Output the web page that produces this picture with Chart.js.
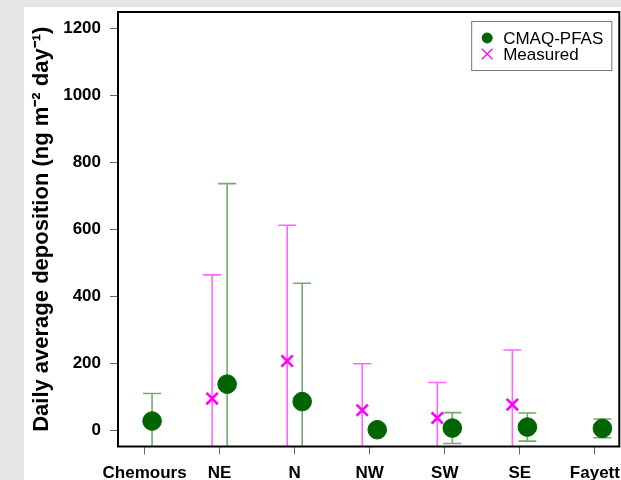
<!DOCTYPE html>
<html>
<head>
<meta charset="utf-8">
<script src="https://cdn.jsdelivr.net/npm/chart.js@4.4.1/dist/chart.umd.min.js"></script>
<style>
  html, body { margin: 0; padding: 0; background: #e6e6e6; overflow: hidden; width: 621px; height: 480px; }
  #panel { position: absolute; left: 24px; top: 7px; width: 597px; height: 473px; background: #ffffff; }
  canvas { display: block; }
</style>
</head>
<body>
<div id="panel"><canvas id="c" width="597" height="473"></canvas></div>
<script>
// ---- data ----
const categories = ['Chemours', 'NE', 'N', 'NW', 'SW', 'SE', 'Fayett'];
const cmaqMean = [28, 138, 86, 2, 7, 10, 6];
const cmaqSd = [82, 598, 353, 0, 46, 42, 28];
const measuredMean = [null, 95, 207, 60, 37, 77, null];
const measuredSd = [null, 369, 405, 139, 106, 163, null];
const yTickValues = [0, 200, 400, 600, 800, 1000, 1200];
const seriesNames = ['CMAQ-PFAS', 'Measured'];
const yTitle = 'Daily average deposition (ng m\u207B\u00B2 day\u207B\u00B9)';

// ---- styling ----
const OFFSET = 0.1;
const GREEN = '#006400';
const MAGENTA = '#ff00ff';
const GREEN_BAR = 'rgba(0,100,0,0.55)';
const MAGENTA_BAR = 'rgba(255,0,255,0.6)';
const FONT = "'Liberation Sans', Arial, Helvetica, sans-serif";

function buildPoints(means, sds, off) {
  const pts = [];
  means.forEach((v, i) => {
    if (v !== null) pts.push({ x: i + 1 + off, y: v, sd: sds[i] });
  });
  return pts;
}

const errorBarPlugin = {
  id: 'errorBars',
  beforeDatasetsDraw(chart) {
    const { ctx, chartArea, scales } = chart;
    const xs = scales.x, ys = scales.y;
    ctx.save();
    ctx.beginPath();
    ctx.rect(chartArea.left, chartArea.top, chartArea.right - chartArea.left, chartArea.bottom - chartArea.top);
    ctx.clip();
    chart.data.datasets.forEach(ds => {
      ctx.strokeStyle = ds.errorColor;
      ctx.lineWidth = 1.6;
      ds.data.forEach(d => {
        if (!d.sd) return;
        const px = xs.getPixelForValue(d.x);
        const pHi = ys.getPixelForValue(d.y + d.sd);
        const pLo = ys.getPixelForValue(d.y - d.sd);
        ctx.beginPath();
        ctx.moveTo(px, pLo);
        ctx.lineTo(px, pHi);
        const cap = 9;
        ctx.moveTo(px - cap, pHi);
        ctx.lineTo(px + cap, pHi);
        ctx.moveTo(px - cap, pLo);
        ctx.lineTo(px + cap, pLo);
        ctx.stroke();
      });
    });
    ctx.restore();
  }
};

const framePlugin = {
  id: 'frame',
  afterDraw(chart) {
    const { ctx, chartArea } = chart;
    ctx.save();
    ctx.strokeStyle = '#000';
    ctx.lineWidth = 2;
    ctx.strokeRect(chartArea.left, chartArea.top, chartArea.right - chartArea.left, chartArea.bottom - chartArea.top);

    // legend box (top-right, inside plot)
    ctx.font = '17px ' + FONT;
    const textW = Math.max(...chart.data.datasets.map(d => ctx.measureText(d.label).width));
    const boxRight = chartArea.right - 8;
    const boxTop = chartArea.top + 9;
    const boxW = 32 + textW + 8;
    const boxH = 49;
    const boxLeft = boxRight - boxW;
    ctx.fillStyle = '#fff';
    ctx.fillRect(boxLeft, boxTop, boxW, boxH);
    ctx.strokeStyle = '#777';
    ctx.lineWidth = 1;
    ctx.strokeRect(boxLeft + 0.5, boxTop + 0.5, boxW, boxH);
    chart.data.datasets.forEach((ds, i) => {
      const cy = boxTop + 17 + i * 16;
      ctx.save();
      ctx.fillStyle = ds.backgroundColor;
      ctx.strokeStyle = ds.borderColor;
      ctx.lineWidth = ds.legendBorderWidth;
      Chart.helpers.drawPoint(ctx, {
        pointStyle: ds.pointStyle,
        radius: ds.legendRadius,
        borderWidth: ds.legendBorderWidth,
        rotation: 0
      }, boxLeft + 16, cy);
      ctx.restore();
      ctx.font = '17px ' + FONT;
      ctx.fillStyle = '#000';
      ctx.textBaseline = 'middle';
      ctx.textAlign = 'left';
      ctx.fillText(ds.label, boxLeft + 32, cy + 1);
    });
    ctx.restore();
  }
};

const chart = new Chart(document.getElementById('c'), {
  type: 'scatter',
  data: {
    datasets: [
      {
        label: seriesNames[0],
        data: buildPoints(cmaqMean, cmaqSd, OFFSET),
        pointStyle: 'circle',
        pointRadius: 9.3,
        pointBorderWidth: 1,
        backgroundColor: GREEN,
        borderColor: GREEN,
        errorColor: GREEN_BAR,
        legendRadius: 5,
        legendBorderWidth: 1
      },
      {
        label: seriesNames[1],
        data: buildPoints(measuredMean, measuredSd, -OFFSET),
        pointStyle: 'crossRot',
        pointRadius: 8,
        pointBorderWidth: 2.6,
        backgroundColor: MAGENTA,
        borderColor: MAGENTA,
        errorColor: MAGENTA_BAR,
        legendRadius: 7.5,
        legendBorderWidth: 1.3
      }
    ]
  },
  options: {
    responsive: false,
    animation: false,
    events: [],
    layout: { autoPadding: false, padding: { left: 0, top: 5, right: 1.7, bottom: 0 } },
    plugins: { legend: { display: false }, tooltip: { enabled: false } },
    scales: {
      x: {
        type: 'linear',
        min: 0.646,
        max: 7.325,
        afterBuildTicks(scale) { scale.ticks = categories.map((c, i) => ({ value: i + 1 })); },
        afterFit(scale) { scale.height = 33.5; scale.paddingLeft = 0; scale.paddingRight = 0; },
        ticks: {
          autoSkip: false,
          maxRotation: 0,
          padding: 8.5,
          color: '#000',
          font: { family: FONT, size: 17, weight: 'bold' },
          callback: (v) => categories[Math.round(v) - 1]
        },
        grid: { drawOnChartArea: false, drawTicks: true, tickLength: 8, color: '#666', lineWidth: 1 },
        border: { display: false }
      },
      y: {
        type: 'linear',
        min: -48,
        max: 1248,
        afterBuildTicks(scale) { scale.ticks = yTickValues.map(v => ({ value: v })); },
        afterFit(scale) { scale.width = 94; scale.paddingTop = 0; scale.paddingBottom = 0; },
        ticks: {
          padding: 9,
          color: '#000',
          font: { family: FONT, size: 17, weight: 'bold' },
          callback: (v) => String(v)
        },
        grid: { drawOnChartArea: false, drawTicks: true, tickLength: 8, color: '#666', lineWidth: 1 },
        border: { display: false },
        title: {
          display: true,
          text: yTitle,
          color: '#000',
          font: { family: FONT, size: 22, weight: 'bold' },
          padding: { top: 5, bottom: 0 }
        }
      }
    }
  },
  plugins: [errorBarPlugin, framePlugin]
});
</script>
</body>
</html>
